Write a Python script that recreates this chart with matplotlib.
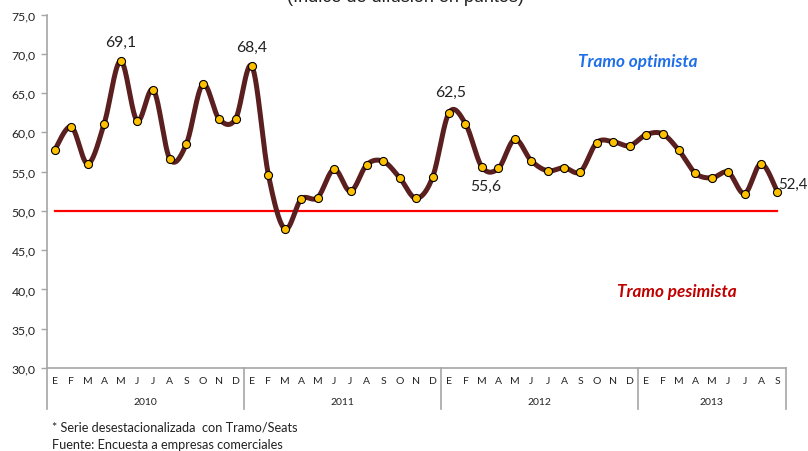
import numpy as np
import matplotlib
matplotlib.use("Agg")
import matplotlib.pyplot as plt
from matplotlib.transforms import blended_transform_factory

plt.rcParams['font.family'] = ['Lato', 'DejaVu Sans']

months = ["E", "F", "M", "A", "M", "J", "J", "A", "S", "O", "N", "D"]
years = ["2010", "2011", "2012", "2013"]
months_per_year = [12, 12, 12, 9]

values = [57.8, 60.7, 56.0, 61.1, 69.1, 61.5, 65.4, 56.6, 58.5, 66.1, 61.7, 61.7,
          68.4, 54.6, 47.7, 51.5, 51.7, 55.3, 52.5, 55.9, 56.3, 54.2, 51.6, 54.3,
          62.5, 61.1, 55.6, 55.4, 59.1, 56.4, 55.1, 55.5, 55.0, 58.7, 58.8, 58.3,
          59.7, 59.8, 57.7, 54.8, 54.2, 54.9, 52.2, 56.0, 52.4]
threshold = 50.0
yticks = [30, 35, 40, 45, 50, 55, 60, 65, 70, 75]

W, H = 808, 452
fig = plt.figure(figsize=(W / 100, H / 100), dpi=100)
left, right, top, bottom = 46.7, 785.7, 15.5, 369.0
ax = fig.add_axes([left / W, 1 - bottom / H, (right - left) / W, (bottom - top) / H])

n = len(values)
x = np.arange(n)
y = np.array(values)

# Excel-like smoothed line (Bezier with Catmull-Rom control points)
pts = np.column_stack([x, y]).astype(float)
ext = np.vstack([pts[0], pts, pts[-1]])
t = np.linspace(0, 1, 30)[:, None]
curve = []
for i in range(n - 1):
    p0, p1, p2, p3 = ext[i], ext[i + 1], ext[i + 2], ext[i + 3]
    c1 = p1 + (p2 - p0) / 6.0
    c2 = p2 - (p3 - p1) / 6.0
    seg = ((1 - t) ** 3) * p1 + 3 * ((1 - t) ** 2) * t * c1 + 3 * (1 - t) * t ** 2 * c2 + t ** 3 * p2
    curve.append(seg if i == 0 else seg[1:])
curve = np.vstack(curve)

ax.plot(x, [threshold] * n, color="#FF0000", lw=1.6, zorder=2)
ax.plot(curve[:, 0], curve[:, 1], color="#5B1F1F", lw=3.6, zorder=3, solid_capstyle="round")
ax.plot(x, y, ls="none", marker="o", ms=5.8, mfc="#FFC000", mec="black", mew=0.8, zorder=4)

ax.set_xlim(-0.5, n - 0.5)
ax.set_ylim(30, 75)
ax.set_yticks(yticks)
ax.set_yticklabels([f"{v:.1f}".replace(".", ",") for v in yticks], fontsize=8.8, color="#222222")
ax.tick_params(axis="y", length=4, color="#A6A6A6", width=1, pad=4)
ax.set_xticks([])
for s in ["top", "right"]:
    ax.spines[s].set_visible(False)
for s in ["left", "bottom"]:
    ax.spines[s].set_color("#A6A6A6")
    ax.spines[s].set_linewidth(1.2)

# category labels
tr = blended_transform_factory(ax.transData, ax.transAxes)
ax_h = bottom - top
def ay(px):
    return 1 - (px - top) / ax_h

for i in range(n):
    ax.text(i, ay(382), months[i % 12], transform=tr, ha="center", va="center",
            fontsize=7.5, color="#222222")
start = 0
bounds = [-0.5]
for yr, cnt in zip(years, months_per_year):
    mid = start + (cnt - 1) / 2
    ax.text(mid, ay(403), yr, transform=tr, ha="center", va="center", fontsize=7.5, color="#222222")
    start += cnt
    bounds.append(start - 0.5)
for b in bounds:
    ax.plot([b, b], [ay(369), ay(410)], transform=tr, color="#A6A6A6", lw=1.2, clip_on=False)

# data labels
def lab(i, txt, dx, dy, ha="center", fs=11.3):
    ax.annotate(txt, (x[i], y[i]), xytext=(dx, dy), textcoords="offset pixels",
                ha=ha, va="center", fontsize=fs, color="#222222", zorder=5)

lab(4, "69,1", 0, 19)
lab(12, "68,4", 0, 19)
lab(24, "62,5", 2, 21)
lab(26, "55,6", 4, -19)
lab(44, "52,4", 1, 8, ha="left", fs=10.8)

fig.text(638 / W, 1 - 62 / H, "Tramo optimista", ha="center", va="center",
         fontsize=12.3, fontweight="bold", fontstyle="italic", color="#1F6FE8")
fig.text(677 / W, 1 - 292 / H, "Tramo pesimista", ha="center", va="center",
         fontsize=12.3, fontweight="bold", fontstyle="italic", color="#C00000")

fig.text(405 / W, 1 - 2 / H, "(Índice de difusión en puntos)", ha="center", va="baseline",
         fontsize=13, color="#222222", family=["Liberation Sans", "DejaVu Sans"])

fig.text(52 / W, 1 - 428 / H, "* Serie desestacionalizada  con Tramo/Seats", ha="left", va="center",
         fontsize=9.2, color="#222222")
fig.text(52 / W, 1 - 445 / H, "Fuente: Encuesta a empresas comerciales", ha="left", va="center",
         fontsize=9.2, color="#222222")

fig.savefig("out.png", dpi=100)
